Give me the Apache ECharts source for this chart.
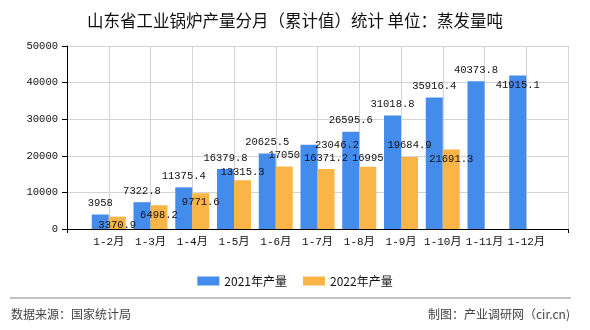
<!DOCTYPE html>
<html>
<head>
<meta charset="utf-8">
<script src="https://cdn.jsdelivr.net/npm/echarts@6/dist/echarts.min.js"></script>
<style>
html,body{margin:0;padding:0;background:#fff;}
#chart{width:590px;height:330px;}
</style>
</head>
<body>
<div id="chart"></div>
<script>
const categories = ['1-2月','1-3月','1-4月','1-5月','1-6月','1-7月','1-8月','1-9月','1-10月','1-11月','1-12月'];
const yTicks = [0, 10000, 20000, 30000, 40000, 50000];
const series2021 = [3958, 7322.8, 11375.4, 16379.8, 20625.5, 23046.2, 26595.6, 31018.8, 35916.4, 40373.8, 41915.1];
const series2022 = [3370.9, 6498.2, 9771.6, 13315.3, 17050, 16371.2, 16995, 19684.9, 21691.3, null, null];
const seriesNames = ['2021年产量', '2022年产量'];

// label placement tweaks (style only)
const offsets2021 = [null,null,null,null,null,[28,12],null,null,null,null,[0,21]];
const offsets2022 = [[0,20],[0,21],[0,20],[0,3],[0,0],[0,0],[0,3],[0,0],[0,21],null,null];

const monoFont = "'Liberation Mono','DejaVu Sans Mono','Noto Sans CJK SC',monospace";
const cjkFont = "'Noto Sans CJK SC','Liberation Sans',sans-serif";

function buildData(vals, offs) {
  const out = ['-'];
  vals.forEach((v, i) => {
    if (v === null) { out.push('-'); return; }
    const item = { value: v };
    if (offs[i]) item.label = { offset: offs[i] };
    out.push(item);
  });
  out.push('-');
  return out;
}
const paddedCats = [''].concat(categories, ['']);
const lastIdx = paddedCats.length - 1;

const chart = echarts.init(document.getElementById('chart'), null, { renderer: 'canvas' });
const labelStyle = {
  show: true, position: 'top', distance: 6,
  fontFamily: monoFont, fontSize: 10.5, color: '#111',
  formatter: p => String(p.value)
};
chart.setOption({
  animation: false,
  backgroundColor: '#fff',
  title: {
    text: '山东省工业锅炉产量分月（累计值）统计 单位：蒸发量吨',
    left: 'center', top: 7,
    textStyle: { fontFamily: cjkFont, fontSize: 16.5, fontWeight: 'normal', color: '#111' }
  },
  legend: {
    data: seriesNames,
    left: 'center', top: 270,
    itemWidth: 22, itemHeight: 9, itemGap: 16,
    icon: 'rect',
    textStyle: { fontFamily: cjkFont, fontSize: 12, color: '#111' }
  },
  grid: { left: 67, right: 22, top: 46, bottom: 101, containLabel: false },
  xAxis: {
    type: 'category',
    data: paddedCats,
    boundaryGap: false,
    axisLine: { show: true, lineStyle: { color: '#000', width: 1 } },
    axisTick: { show: true, length: 4, lineStyle: { color: '#000' },
      interval: (idx) => idx === 0 || idx === lastIdx },
    axisLabel: { interval: 0, margin: 8, fontFamily: monoFont, fontSize: 11, color: '#111' },
    splitLine: { show: true, interval: 0, lineStyle: { color: '#d3d3d3', width: 1 } }
  },
  yAxis: {
    type: 'value',
    min: yTicks[0], max: yTicks[yTicks.length - 1], interval: yTicks[1] - yTicks[0],
    axisLine: { show: true, lineStyle: { color: '#000', width: 1 } },
    axisTick: { show: true, length: 5, lineStyle: { color: '#000' } },
    axisLabel: { margin: 9, fontFamily: monoFont, fontSize: 10.5, color: '#111', formatter: v => String(v) },
    splitLine: { show: true, lineStyle: { color: '#d3d3d3', width: 1 } }
  },
  series: [
    {
      name: seriesNames[0], type: 'bar', barWidth: 17, barGap: '0%',
      itemStyle: { color: '#438CEC' },
      label: labelStyle,
      data: buildData(series2021, offsets2021)
    },
    {
      name: seriesNames[1], type: 'bar', barWidth: 17, barGap: '0%',
      itemStyle: { color: '#FBB446' },
      label: labelStyle,
      data: buildData(series2022, offsets2022)
    }
  ],
  graphic: [
    { type: 'line', shape: { x1: 10, y1: 298, x2: 571, y2: 298 }, style: { stroke: '#888', lineWidth: 1 } },
    { type: 'text', left: 11, top: 308, style: { text: '数据来源：国家统计局', font: "12px 'Noto Sans CJK SC'", fill: '#444' } },
    { type: 'text', right: 20, top: 308, style: { text: '制图：产业调研网（cir.cn)', font: "12px 'Noto Sans CJK SC'", fill: '#444' } }
  ]
});
</script>
</body>
</html>
